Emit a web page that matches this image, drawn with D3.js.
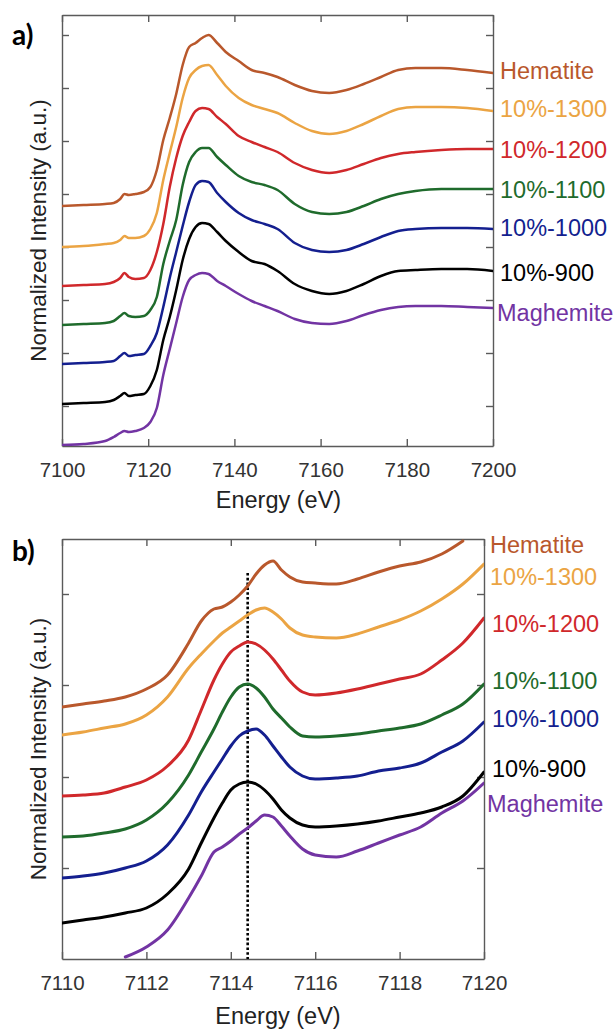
<!DOCTYPE html>
<html>
<head>
<meta charset="utf-8">
<script src="https://cdn.jsdelivr.net/npm/d3@7"></script>
<style>
  body { margin: 0; background: #fff; }
</style>
</head>
<body>
<svg id="chart" width="616" height="1030"></svg>
<script>
// series names and colours, top curve first
const seriesNames = ["Hematite", "10%-1300", "10%-1200", "10%-1100", "10%-1000", "10%-900", "Maghemite"];
const seriesColors = ["#b9582c", "#eba443", "#d0282b", "#1f6b2c", "#141f8f", "#000000", "#7234a3"];

// ---- panel a : full XANES, stacked (a.u.)
const energyA = [7100, 7105, 7110, 7112, 7113.5, 7114.5, 7115.5, 7117, 7119, 7120.5, 7122, 7123.5, 7125, 7126.5,
  7128, 7129.5, 7131, 7132.5, 7134, 7136, 7138, 7141, 7144, 7147, 7150, 7154, 7158, 7162, 7166, 7170, 7174,
  7178, 7182, 7188, 7194, 7200];
const hematiteA = [2.40, 2.41, 2.42, 2.43, 2.47, 2.52, 2.51, 2.52, 2.54, 2.59, 2.76, 3.06, 3.28, 3.52, 3.81, 3.99,
  4.03, 4.08, 4.11, 4.03, 3.94, 3.85, 3.76, 3.73, 3.69, 3.61, 3.55, 3.53, 3.56, 3.62, 3.69, 3.76, 3.78, 3.78, 3.76, 3.73];
const s1300A = [1.99, 2.00, 2.02, 2.03, 2.06, 2.10, 2.08, 2.08, 2.10, 2.17, 2.33, 2.66, 2.93, 3.19, 3.48, 3.68,
  3.76, 3.80, 3.81, 3.71, 3.60, 3.48, 3.41, 3.37, 3.33, 3.23, 3.15, 3.12, 3.15, 3.22, 3.30, 3.37, 3.39, 3.39, 3.38, 3.35];
const s1200A = [1.60, 1.61, 1.62, 1.64, 1.68, 1.73, 1.69, 1.67, 1.68, 1.76, 1.94, 2.22, 2.59, 2.88, 3.10, 3.24,
  3.35, 3.38, 3.37, 3.29, 3.22, 3.10, 3.04, 2.99, 2.94, 2.83, 2.76, 2.73, 2.76, 2.82, 2.88, 2.92, 2.94, 2.96, 2.97, 2.97];
const s1100A = [1.21, 1.22, 1.23, 1.25, 1.30, 1.33, 1.30, 1.29, 1.30, 1.36, 1.49, 1.82, 2.05, 2.26, 2.61, 2.84,
  2.94, 2.98, 2.98, 2.89, 2.81, 2.70, 2.64, 2.61, 2.56, 2.42, 2.34, 2.32, 2.34, 2.40, 2.47, 2.52, 2.55, 2.57, 2.57, 2.57];
const s1000A = [0.82, 0.83, 0.84, 0.85, 0.90, 0.93, 0.90, 0.91, 0.92, 1.00, 1.13, 1.39, 1.68, 1.94, 2.20, 2.44,
  2.61, 2.65, 2.64, 2.53, 2.44, 2.33, 2.26, 2.22, 2.17, 2.03, 1.96, 1.94, 1.96, 2.02, 2.09, 2.15, 2.17, 2.18, 2.18, 2.17];
const s900A = [0.42, 0.43, 0.44, 0.46, 0.50, 0.53, 0.50, 0.51, 0.52, 0.60, 0.76, 1.06, 1.29, 1.56, 1.86, 2.07,
  2.19, 2.23, 2.22, 2.14, 2.05, 1.94, 1.85, 1.82, 1.75, 1.62, 1.55, 1.52, 1.55, 1.62, 1.70, 1.75, 1.76, 1.77, 1.77, 1.75];
const maghemiteA = [0.01, 0.02, 0.05, 0.09, 0.13, 0.15, 0.14, 0.15, 0.18, 0.24, 0.38, 0.71, 0.97, 1.23, 1.49, 1.66,
  1.71, 1.73, 1.72, 1.65, 1.60, 1.52, 1.45, 1.40, 1.35, 1.27, 1.23, 1.22, 1.25, 1.31, 1.36, 1.39, 1.40, 1.40, 1.39, 1.38];
const xTicksA = [7100, 7120, 7140, 7160, 7180, 7200];
const yTicksA = [0.40, 0.93, 1.46, 1.99, 2.52, 3.05, 3.58, 4.11];

// ---- panel b : pre-edge zoom
const energyB = [7110, 7110.5, 7111, 7111.5, 7112, 7112.5, 7113, 7113.3, 7113.6, 7113.8, 7114, 7114.2, 7114.4,
  7114.6, 7114.8, 7115, 7115.2, 7115.4, 7115.7, 7116, 7116.5, 7117, 7117.5, 7118, 7118.5, 7119, 7119.5, 7120];
const hematiteB = [2.52, 2.55, 2.58, 2.62, 2.70, 2.84, 3.16, 3.38, 3.50, 3.52, 3.57, 3.64, 3.73, 3.85, 3.94, 3.98,
  3.89, 3.82, 3.77, 3.76, 3.75, 3.80, 3.87, 3.93, 3.97, 4.05, 4.18, null];
const s1300B = [2.24, 2.27, 2.31, 2.35, 2.44, 2.62, 2.91, 3.05, 3.18, 3.26, 3.32, 3.38, 3.44, 3.49, 3.51, 3.47,
  3.40, 3.31, 3.24, 3.22, 3.21, 3.25, 3.32, 3.39, 3.48, 3.60, 3.75, 3.95];
const s1200B = [1.63, 1.64, 1.66, 1.72, 1.79, 1.93, 2.19, 2.49, 2.79, 2.95, 3.07, 3.13, 3.17, 3.15, 3.09, 3.00,
  2.89, 2.78, 2.67, 2.64, 2.66, 2.70, 2.75, 2.80, 2.85, 2.99, 3.16, 3.41];
const s1100B = [1.22, 1.23, 1.26, 1.30, 1.39, 1.56, 1.84, 2.07, 2.30, 2.47, 2.62, 2.72, 2.75, 2.71, 2.62, 2.50,
  2.41, 2.32, 2.23, 2.22, 2.23, 2.25, 2.28, 2.31, 2.35, 2.44, 2.55, 2.75];
const s1000B = [0.81, 0.83, 0.86, 0.91, 0.98, 1.14, 1.44, 1.67, 1.87, 2.00, 2.13, 2.23, 2.28, 2.30, 2.24, 2.13,
  2.02, 1.92, 1.83, 1.80, 1.81, 1.83, 1.88, 1.91, 1.96, 2.07, 2.18, 2.37];
const s900B = [0.36, 0.39, 0.42, 0.46, 0.51, 0.65, 0.90, 1.16, 1.41, 1.56, 1.69, 1.75, 1.77, 1.75, 1.69, 1.60,
  1.49, 1.41, 1.34, 1.32, 1.33, 1.35, 1.38, 1.42, 1.46, 1.52, 1.63, 1.87];
const maghemiteB = [null, null, null, 0.02, 0.12, 0.29, 0.61, 0.83, 1.07, 1.12, 1.18, 1.25, 1.31, 1.38, 1.44, 1.42,
  1.33, 1.23, 1.10, 1.04, 1.02, 1.08, 1.16, 1.24, 1.32, 1.46, 1.58, 1.76];
const xTicksB = [7110, 7112, 7114, 7116, 7118, 7120];
const yTicksB = [0.91, 1.82, 2.74, 3.65];
// dotted reference line (pre-edge centroid)
const refEnergyB = 7114.4;
const refTopB = 3.86;

const FONT = "Arial, 'Liberation Sans', Arimo, Helvetica, sans-serif";
const AXIS = "#5a5a5a";
const svg = d3.select("#chart");

function drawPanel(p) {
  const x = d3.scaleLinear().domain(p.xDomain).range([p.left, p.right]);
  const y = d3.scaleLinear().domain(p.yDomain).range([p.bottom, p.top]);
  const g = svg.append("g");

  g.append("clipPath").attr("id", "clip-" + p.tag)
    .append("rect")
    .attr("x", p.left).attr("y", p.top)
    .attr("width", p.right - p.left).attr("height", p.bottom - p.top);

  // box with inward ticks on all four sides
  const bottom = g.append("g")
    .attr("transform", `translate(0,${p.bottom})`)
    .call(d3.axisBottom(x).tickValues(p.xTicks).tickSizeInner(-7).tickSizeOuter(0)
      .tickPadding(16).tickFormat(d3.format("d")));
  g.append("g")
    .attr("transform", `translate(0,${p.top})`)
    .call(d3.axisTop(x).tickValues(p.xTicks).tickSizeInner(-7).tickSizeOuter(0).tickFormat(""));
  g.append("g")
    .attr("transform", `translate(${p.left},0)`)
    .call(d3.axisLeft(y).tickValues(p.yTicks).tickSizeInner(-7).tickSizeOuter(0).tickFormat(""));
  g.append("g")
    .attr("transform", `translate(${p.right},0)`)
    .call(d3.axisRight(y).tickValues(p.yTicks).tickSizeInner(-7).tickSizeOuter(0).tickFormat(""));

  g.selectAll(".domain, .tick line").attr("stroke", AXIS).attr("stroke-width", 1.4);
  bottom.selectAll("text")
    .attr("font-family", FONT)
    .attr("font-size", 20.5).attr("fill", "#333");

  // curves
  const line = d3.line()
    .defined(d => d[1] != null)
    .x(d => x(d[0]))
    .y(d => y(d[1]))
    .curve(d3.curveMonotoneX);

  const plot = g.append("g").attr("clip-path", `url(#clip-${p.tag})`);

  if (p.ref) {
    plot.append("line")
      .attr("x1", x(p.ref.energy)).attr("x2", x(p.ref.energy))
      .attr("y1", y(p.ref.top)).attr("y2", y(p.yDomain[0]))
      .attr("stroke", "#000").attr("stroke-width", 2.6)
      .attr("stroke-dasharray", "2.6,2.2");
  }

  p.series.slice().reverse().forEach((vals, k) => {
    const i = p.series.length - 1 - k;
    plot.append("path")
      .datum(p.energy.map((e, j) => [e, vals[j]]))
      .attr("fill", "none")
      .attr("stroke", seriesColors[i])
      .attr("stroke-width", p.lineWidth)
      .attr("stroke-linejoin", "round")
      .attr("stroke-linecap", "round")
      .attr("d", line);
  });

  // series labels to the right of the box
  g.selectAll(".seriesLabel")
    .data(seriesNames)
    .enter().append("text")
    .attr("class", "seriesLabel")
    .attr("x", (d, i) => p.labelPos[i][0])
    .attr("y", (d, i) => p.labelPos[i][1])
    .attr("font-family", FONT)
    .attr("font-size", 23.5)
    .attr("fill", (d, i) => seriesColors[i])
    .text(d => d);

  // axis titles
  g.append("text")
    .attr("x", (p.left + p.right) / 2 + p.xTitleShift)
    .attr("y", p.xTitleY)
    .attr("text-anchor", "middle")
    .attr("font-family", FONT)
    .attr("font-size", 23.5).attr("fill", "#222")
    .text("Energy (eV)");

  g.append("text")
    .attr("transform", `translate(46,${(p.top + p.bottom) / 2}) rotate(-90)`)
    .attr("text-anchor", "middle")
    .attr("font-family", FONT)
    .attr("font-size", 22.5).attr("fill", "#222")
    .text("Normalized Intensity (a.u.)");

  // panel letter
  g.append("text")
    .attr("x", 12).attr("y", p.letterY)
    .attr("font-family", "Lato, 'Open Sans', sans-serif")
    .attr("font-weight", "bold")
    .attr("font-size", 28).attr("fill", "#000")
    .text(p.letter);
}

drawPanel({
  tag: "a", letter: "a)", letterY: 45,
  left: 62, right: 493, top: 15, bottom: 446,
  xDomain: [7100, 7200], yDomain: [0, 4.31],
  xTicks: xTicksA, yTicks: yTicksA,
  energy: energyA,
  series: [hematiteA, s1300A, s1200A, s1100A, s1000A, s900A, maghemiteA],
  lineWidth: 2.5,
  labelPos: [[500, 79], [500, 117], [500, 158], [500, 198], [500, 236], [500, 281], [497, 321]],
  xTitleY: 508, xTitleShift: 1
});

drawPanel({
  tag: "b", letter: "b)", letterY: 561,
  left: 62, right: 484, top: 539, bottom: 959,
  xDomain: [7110, 7120], yDomain: [0, 4.20],
  xTicks: xTicksB, yTicks: yTicksB,
  energy: energyB,
  series: [hematiteB, s1300B, s1200B, s1100B, s1000B, s900B, maghemiteB],
  lineWidth: 3,
  ref: { energy: refEnergyB, top: refTopB },
  labelPos: [[490, 553], [490, 585], [492, 632], [492, 689], [492, 727], [492, 777], [487, 812]],
  xTitleY: 1024, xTitleShift: 5
});
</script>
</body>
</html>
